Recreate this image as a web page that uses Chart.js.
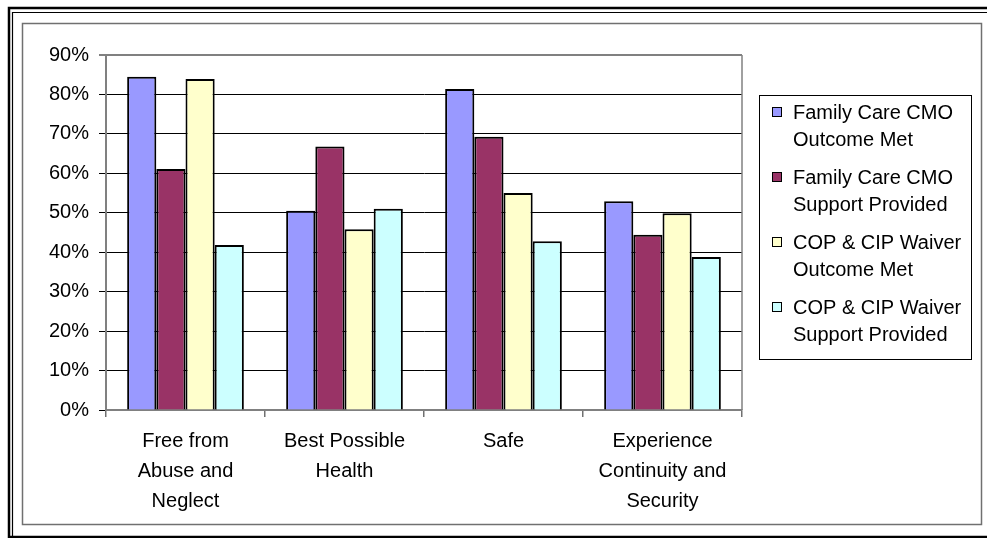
<!DOCTYPE html>
<html>
<head>
<meta charset="utf-8">
<script src="https://cdn.jsdelivr.net/npm/chart.js@4/dist/chart.umd.min.js"></script>
<style>
  html, body { margin: 0; padding: 0; background: #fff; }
  canvas { display: block; }
</style>
</head>
<body>
<canvas id="outcomeChart" width="987" height="538"></canvas>
<script>
// categories and series
const categories = [
    ["Free from", "Abuse and", "Neglect"],
    ["Best Possible", "Health"],
    ["Safe"],
    ["Experience", "Continuity and", "Security"]
];
const seriesNames = [
    ["Family Care CMO", "Outcome Met"],
    ["Family Care CMO", "Support Provided"],
    ["COP & CIP Waiver", "Outcome Met"],
    ["COP & CIP Waiver", "Support Provided"]
];
const fcOutcomeMet = [0.845, 0.505, 0.814, 0.529];
const fcSupportProvided = [0.611, 0.668, 0.693, 0.444];
const copOutcomeMet = [0.839, 0.458, 0.550, 0.499];
const copSupportProvided = [0.418, 0.510, 0.428, 0.388];
const seriesColors = ["#9999FF", "#993366", "#FFFFCC", "#CCFFFF"];
const yTicks = [0, 0.1, 0.2, 0.3, 0.4, 0.5, 0.6, 0.7, 0.8, 0.9];

const FONT = "Liberation Sans, Arial, sans-serif";

// frame, plot border and boxed legend
const framePlugin = {
    id: "frame",
    beforeDraw(chart) {
        const ctx = chart.ctx;
        ctx.save();
        ctx.fillStyle = "#fff";
        ctx.fillRect(0, 0, chart.width, chart.height);
        ctx.strokeStyle = "#000";
        ctx.lineWidth = 2.5;
        ctx.strokeRect(9, 8, 990, 529);
        ctx.lineWidth = 1.2;
        ctx.beginPath();
        ctx.moveTo(12.5, 540);
        ctx.lineTo(12.5, 12.5);
        ctx.lineTo(990, 12.5);
        ctx.stroke();
        ctx.strokeStyle = "#707070";
        ctx.lineWidth = 1.5;
        ctx.strokeRect(22.5, 23.5, 959, 501);
        ctx.restore();
    },
    afterDraw(chart) {
        const ctx = chart.ctx;
        const area = chart.chartArea;
        ctx.save();
        ctx.strokeStyle = "#808080";
        ctx.lineWidth = 1.5;
        ctx.beginPath();
        ctx.moveTo(area.right, area.top);
        ctx.lineTo(area.right, area.bottom);
        ctx.stroke();

        // legend
        ctx.strokeStyle = "#000";
        ctx.lineWidth = 1;
        ctx.strokeRect(759.5, 95.5, 212, 264);
        ctx.font = "20px " + FONT;
        ctx.textBaseline = "middle";
        ctx.fillStyle = "#000";
        chart.data.datasets.forEach((ds, i) => {
            const y = 113 + i * 65;
            ctx.fillStyle = ds.backgroundColor;
            ctx.fillRect(772.5, y - 5.5, 9, 9);
            ctx.strokeStyle = "#000";
            ctx.strokeRect(772.5, y - 5.5, 9, 9);
            ctx.fillStyle = "#000";
            seriesNames[i].forEach((line, j) => {
                ctx.fillText(line, 793, y + j * 27);
            });
        });
        ctx.restore();
    }
};

const ctx = document.getElementById("outcomeChart").getContext("2d");
new Chart(ctx, {
    type: "bar",
    data: {
        labels: categories,
        datasets: [
            { label: seriesNames[0].join(" "), data: fcOutcomeMet, backgroundColor: seriesColors[0] },
            { label: seriesNames[1].join(" "), data: fcSupportProvided, backgroundColor: seriesColors[1] },
            { label: seriesNames[2].join(" "), data: copOutcomeMet, backgroundColor: seriesColors[2] },
            { label: seriesNames[3].join(" "), data: copSupportProvided, backgroundColor: seriesColors[3] }
        ].map(ds => Object.assign(ds, {
            borderColor: "#000",
            borderWidth: 2,
            borderSkipped: "bottom",
            categoryPercentage: 0.734,
            barPercentage: 1
        }))
    },
    options: {
        responsive: false,
        animation: false,
        layout: { padding: { top: 55, left: 0, right: 245, bottom: 0 } },
        plugins: {
            legend: { display: false },
            tooltip: { enabled: false }
        },
        scales: {
            x: {
                afterFit(scale) { scale.height = 128; },
                grid: {
                    offset: true,
                    drawOnChartArea: false,
                    tickLength: 7,
                    color: "#707070",
                    lineWidth: 1.5
                },
                border: { color: "#808080", width: 2 },
                ticks: {
                    color: "#000",
                    padding: 9,
                    font: { family: FONT, size: 20, lineHeight: 1.5 }
                }
            },
            y: {
                min: 0,
                max: 0.9,
                afterFit(scale) { scale.width = 106; },
                afterBuildTicks(scale) {
                    scale.ticks = yTicks.map(v => ({ value: v }));
                },
                grid: {
                    tickLength: 7,
                    color: c => (c.tick && c.tick.value >= 0.89 ? "#808080" : "#000"),
                    lineWidth: c => (c.tick && c.tick.value >= 0.89 ? 2 : 1)
                },
                border: { color: "#808080", width: 2 },
                ticks: {
                    color: "#000",
                    padding: 10,
                    font: { family: FONT, size: 20 },
                    callback: v => Math.round(v * 100) + "%"
                }
            }
        }
    },
    plugins: [framePlugin]
});
</script>
</body>
</html>
